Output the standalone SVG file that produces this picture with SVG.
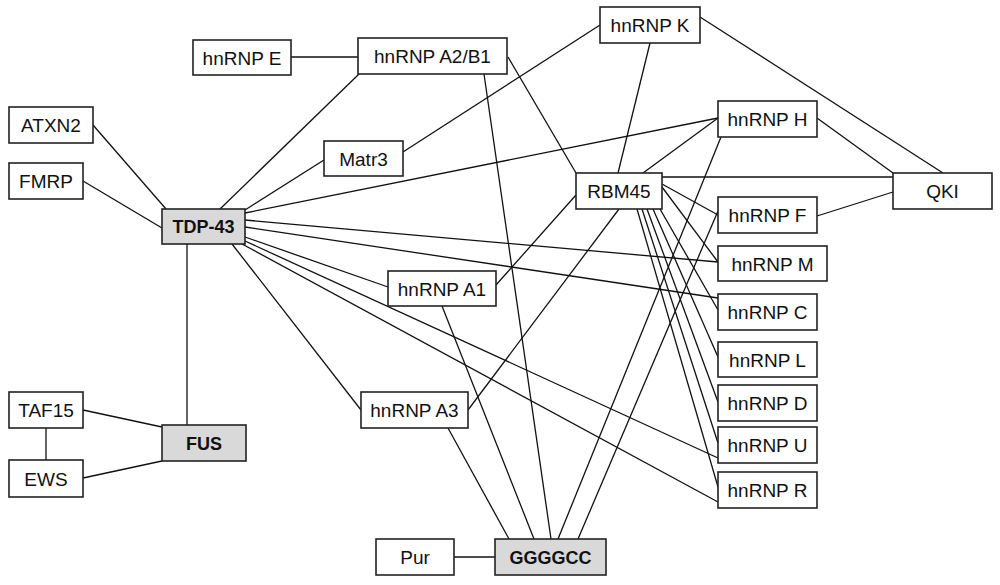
<svg xmlns="http://www.w3.org/2000/svg" width="1000" height="585" viewBox="0 0 1000 585">
<style>
.n rect{fill:#fff;stroke:#222;stroke-width:1.6}
.g rect{fill:#d9d9d9}
.n text{font-family:"Liberation Sans",Arial,sans-serif;font-size:19px;fill:#111;text-anchor:middle}
.g text{font-weight:bold;font-size:18px}
#edges line{stroke:#111;stroke-width:1.3}
</style>
<rect width="1000" height="585" fill="#fff"/>
<g id="edges">
<line x1="291" y1="57" x2="358" y2="57"/>
<line x1="359" y1="74" x2="220" y2="209"/>
<line x1="508" y1="57" x2="576" y2="173"/>
<line x1="484" y1="74" x2="551" y2="539"/>
<line x1="600" y1="25" x2="403" y2="152"/>
<line x1="650" y1="43" x2="618" y2="173"/>
<line x1="700" y1="17" x2="943" y2="173"/>
<line x1="93" y1="125" x2="166" y2="209"/>
<line x1="83" y1="181" x2="162" y2="228"/>
<line x1="324" y1="160" x2="245" y2="210"/>
<line x1="718" y1="118" x2="245" y2="213"/>
<line x1="718" y1="262" x2="245" y2="220"/>
<line x1="718" y1="298" x2="245" y2="227"/>
<line x1="388" y1="287" x2="245" y2="237"/>
<line x1="718" y1="458" x2="245" y2="241"/>
<line x1="718" y1="502" x2="242" y2="244"/>
<line x1="361" y1="410" x2="232" y2="244"/>
<line x1="187" y1="244" x2="187" y2="425"/>
<line x1="83" y1="410" x2="162" y2="427"/>
<line x1="83" y1="478" x2="162" y2="461"/>
<line x1="46" y1="428" x2="46" y2="460"/>
<line x1="718" y1="118" x2="643" y2="173"/>
<line x1="817" y1="118" x2="893" y2="173"/>
<line x1="721" y1="137" x2="558" y2="539"/>
<line x1="662" y1="177" x2="893" y2="177"/>
<line x1="893" y1="192" x2="817" y2="216"/>
<line x1="662" y1="184" x2="718" y2="215"/>
<line x1="662" y1="187" x2="718" y2="262"/>
<line x1="660" y1="209" x2="718" y2="310"/>
<line x1="653" y1="209" x2="718" y2="357"/>
<line x1="647" y1="209" x2="718" y2="402"/>
<line x1="642" y1="209" x2="718" y2="443"/>
<line x1="637" y1="209" x2="718" y2="487"/>
<line x1="576" y1="195" x2="496" y2="285"/>
<line x1="619" y1="209" x2="468" y2="410"/>
<line x1="718" y1="211" x2="578" y2="539"/>
<line x1="442" y1="306" x2="534" y2="539"/>
<line x1="448" y1="428" x2="509" y2="539"/>
<line x1="454" y1="557" x2="495" y2="557"/>
</g>
<g id="hnRNP_E" class="n"><rect x="193" y="40" width="98" height="35"/><text x="242" y="64.5">hnRNP E</text></g>
<g id="hnRNP_A2B1" class="n"><rect x="358" y="38" width="149" height="36"/><text x="432.5" y="63">hnRNP A2/B1</text></g>
<g id="hnRNP_K" class="n"><rect x="600" y="7" width="100" height="36"/><text x="650" y="32">hnRNP K</text></g>
<g id="ATXN2" class="n"><rect x="9" y="107" width="84" height="36"/><text x="51" y="132">ATXN2</text></g>
<g id="FMRP" class="n"><rect x="9" y="163" width="74" height="36"/><text x="46" y="188">FMRP</text></g>
<g id="TDP-43" class="n g"><rect x="162" y="209" width="83" height="35"/><text x="203.5" y="233">TDP-43</text></g>
<g id="Matr3" class="n"><rect x="324" y="141" width="79" height="35"/><text x="363.5" y="165.5">Matr3</text></g>
<g id="RBM45" class="n"><rect x="576" y="173" width="86" height="36"/><text x="619" y="198">RBM45</text></g>
<g id="hnRNP_H" class="n"><rect x="718" y="101" width="99" height="36"/><text x="767.5" y="126">hnRNP H</text></g>
<g id="QKI" class="n"><rect x="893" y="173" width="99" height="36"/><text x="942.5" y="198">QKI</text></g>
<g id="hnRNP_F" class="n"><rect x="718" y="197" width="99" height="36"/><text x="767.5" y="222">hnRNP F</text></g>
<g id="hnRNP_M" class="n"><rect x="718" y="246" width="109" height="35"/><text x="772.5" y="270.5">hnRNP M</text></g>
<g id="hnRNP_C" class="n"><rect x="718" y="294" width="99" height="36"/><text x="767.5" y="319">hnRNP C</text></g>
<g id="hnRNP_L" class="n"><rect x="718" y="342" width="99" height="35"/><text x="767.5" y="366.5">hnRNP L</text></g>
<g id="hnRNP_D" class="n"><rect x="718" y="385" width="99" height="36"/><text x="767.5" y="410">hnRNP D</text></g>
<g id="hnRNP_U" class="n"><rect x="718" y="427" width="99" height="36"/><text x="767.5" y="452">hnRNP U</text></g>
<g id="hnRNP_R" class="n"><rect x="718" y="472" width="99" height="36"/><text x="767.5" y="497">hnRNP R</text></g>
<g id="hnRNP_A1" class="n"><rect x="388" y="271" width="108" height="35"/><text x="442" y="295.5">hnRNP A1</text></g>
<g id="hnRNP_A3" class="n"><rect x="361" y="392" width="107" height="36"/><text x="414.5" y="417">hnRNP A3</text></g>
<g id="TAF15" class="n"><rect x="9" y="392" width="74" height="36"/><text x="46" y="417">TAF15</text></g>
<g id="EWS" class="n"><rect x="9" y="460" width="74" height="37"/><text x="46" y="485.5">EWS</text></g>
<g id="FUS" class="n g"><rect x="162" y="425" width="84" height="36"/><text x="204" y="449.5">FUS</text></g>
<g id="Pur" class="n"><rect x="376" y="539" width="78" height="36"/><text x="415" y="564">Pur</text></g>
<g id="GGGGCC" class="n g"><rect x="495" y="539" width="111" height="36"/><text x="550.5" y="563.5">GGGGCC</text></g>
</svg>
